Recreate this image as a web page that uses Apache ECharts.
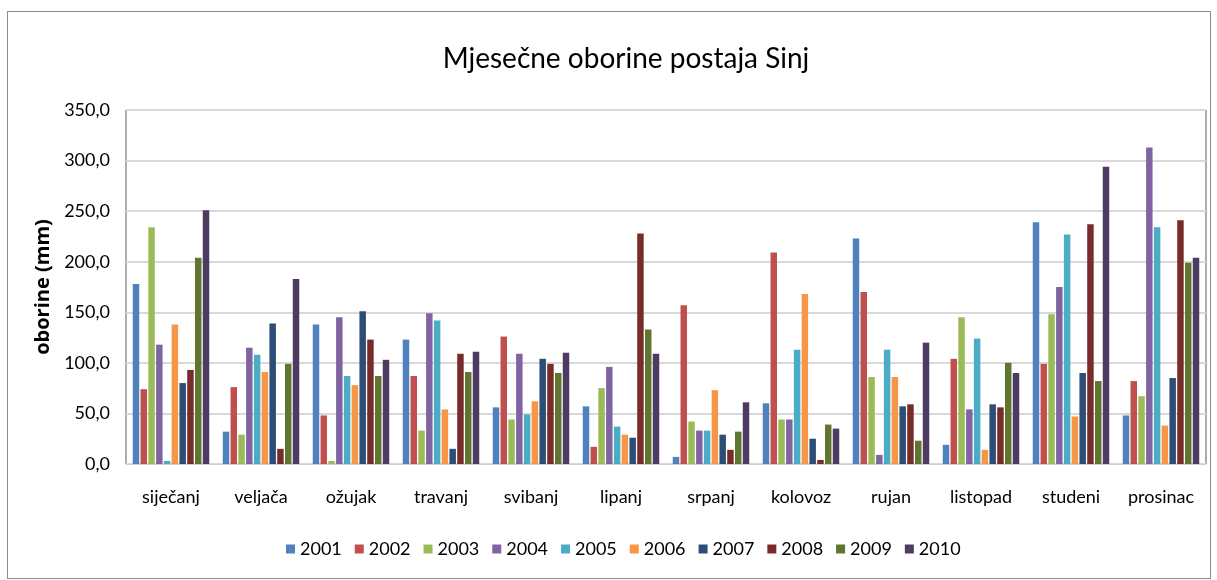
<!DOCTYPE html>
<html>
<head>
<meta charset="utf-8">
<script src="https://cdn.jsdelivr.net/npm/echarts@6/dist/echarts.min.js"></script>
<style>
  html, body { margin: 0; padding: 0; background: #fff; }
  #frame { position: absolute; left: 7px; top: 11px; width: 1202px; height: 566px; border: 1px solid #8c8c8c; }
  #chart { width: 1217px; height: 580px; position: absolute; left: 0; top: 0; }
</style>
</head>
<body>
<div id="frame"></div>
<div id="chart"></div>
<script>
// mjeseci
var months = ["siječanj", "veljača", "ožujak", "travanj", "svibanj", "lipanj",
  "srpanj", "kolovoz", "rujan", "listopad", "studeni", "prosinac"];
var years = ["2001", "2002", "2003", "2004", "2005", "2006", "2007", "2008", "2009", "2010"];

// oborine (mm) po godinama
var y2001 = [178, 32, 138, 123, 56, 57, 7, 60, 223, 19, 239, 48];
var y2002 = [74, 76, 48, 87, 126, 17, 157, 209, 170, 104, 99, 82];
var y2003 = [234, 29, 3, 33, 44, 75, 42, 44, 86, 145, 148, 67];
var y2004 = [118, 115, 145, 149, 109, 96, 33, 44, 9, 54, 175, 313];
var y2005 = [3, 108, 87, 142, 49, 37, 33, 113, 113, 124, 227, 234];
var y2006 = [138, 91, 78, 54, 62, 29, 73, 168, 86, 14, 47, 38];
var y2007 = [80, 139, 151, 15, 104, 26, 29, 25, 57, 59, 90, 85];
var y2008 = [93, 15, 123, 109, 99, 228, 14, 4, 59, 56, 237, 241];
var y2009 = [204, 99, 87, 91, 90, 133, 32, 39, 23, 100, 82, 199];
var y2010 = [251, 183, 103, 111, 110, 109, 61, 35, 120, 90, 294, 204];

var yearData = [y2001, y2002, y2003, y2004, y2005, y2006, y2007, y2008, y2009, y2010];
var colors = ["#4F81BD", "#C0504D", "#9BBB59", "#8064A2", "#4BACC6",
  "#F79646", "#2C4D75", "#772C2A", "#5F7530", "#4D3B62"];

var font = "Lato, 'Open Sans', sans-serif";

var chart = echarts.init(document.getElementById("chart"));

var series = years.map(function (y, i) {
  return {
    name: y,
    type: "bar",
    data: yearData[i],
    barGap: "20%",
    barCategoryGap: "15%",
    itemStyle: { color: colors[i] }
  };
});

var option = {
  animation: false,
  color: colors,
  title: {
    text: "Mjesečne oborine postaja Sinj",
    left: 621,
    textAlign: "center",
    top: 40,
    textStyle: { fontFamily: font, fontSize: 28, fontWeight: "normal", color: "#000" }
  },
  grid: {
    left: 126,
    right: 11,
    top: 110,
    bottom: 116,
    show: true,
    borderColor: "#595959",
    borderWidth: 1
  },
  legend: {
    bottom: 17,
    left: 281,
    itemWidth: 9,
    itemHeight: 9,
    itemGap: 13,
    icon: "rect",
    textStyle: { fontFamily: font, fontSize: 18, color: "#000" },
    data: years
  },
  xAxis: {
    type: "category",
    data: months,
    axisLine: { lineStyle: { color: "#d0d0d0" } },
    axisTick: { show: false },
    axisLabel: { fontFamily: font, fontSize: 18, color: "#000", margin: 24 }
  },
  yAxis: {
    type: "value",
    min: 0,
    max: 350,
    interval: 50,
    name: "oborine (mm)",
    nameLocation: "middle",
    nameGap: 70,
    nameTextStyle: { fontFamily: "'Open Sans', sans-serif", fontSize: 20, fontWeight: "bold", color: "#000" },
    axisLabel: {
      fontFamily: font,
      fontSize: 18,
      color: "#000",
      margin: 16,
      formatter: function (v) { return v.toFixed(1).replace(".", ","); }
    },
    splitLine: { lineStyle: { color: "#d9d9d9", width: 2 } }
  },
  series: series
};

chart.setOption(option);
</script>
</body>
</html>
